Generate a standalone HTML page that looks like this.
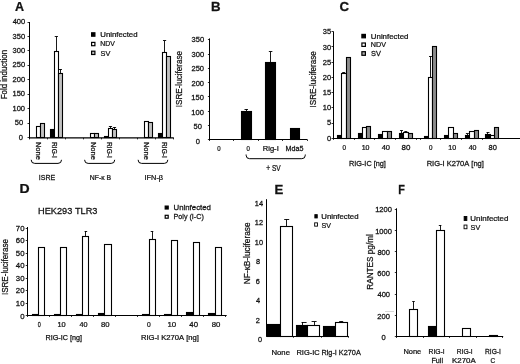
<!DOCTYPE html>
<html><head><meta charset="utf-8"><style>
html,body{margin:0;padding:0;background:#fff;}
svg{display:block;will-change:transform;filter:blur(0.45px);}
text{stroke:#111;stroke-width:0.25px;paint-order:stroke;font-family:"Liberation Sans",sans-serif;font-kerning:none;}
</style></head><body>
<svg width="520" height="364" viewBox="0 0 520 364">
<rect width="520" height="364" fill="#fff"/>
<text transform="translate(14.99,11.20) scale(1.043,1)" font-size="12.00" font-weight="bold" fill="#111">A</text>
<line x1="29.50" y1="22.00" x2="29.50" y2="138.40" stroke="#000" stroke-width="1.00"/>
<line x1="29.20" y1="137.90" x2="173.80" y2="137.90" stroke="#000" stroke-width="1.15"/>
<line x1="27.50" y1="137.50" x2="29.20" y2="137.50" stroke="#000" stroke-width="0.80"/>
<text transform="translate(18.70,139.50) scale(1.080,1)" font-size="7.00" fill="#111">0</text>
<line x1="27.50" y1="123.50" x2="29.20" y2="123.50" stroke="#000" stroke-width="0.80"/>
<text transform="translate(14.79,125.07) scale(1.080,1)" font-size="7.00" fill="#111">50</text>
<line x1="27.50" y1="108.50" x2="29.20" y2="108.50" stroke="#000" stroke-width="0.80"/>
<text transform="translate(12.45,110.65) scale(1.080,1)" font-size="7.00" fill="#111">100</text>
<line x1="27.50" y1="94.50" x2="29.20" y2="94.50" stroke="#000" stroke-width="0.80"/>
<text transform="translate(12.45,96.22) scale(1.080,1)" font-size="7.00" fill="#111">150</text>
<line x1="27.50" y1="79.50" x2="29.20" y2="79.50" stroke="#000" stroke-width="0.80"/>
<text transform="translate(12.55,81.79) scale(1.080,1)" font-size="7.00" fill="#111">200</text>
<line x1="27.50" y1="65.50" x2="29.20" y2="65.50" stroke="#000" stroke-width="0.80"/>
<text transform="translate(12.55,67.36) scale(1.080,1)" font-size="7.00" fill="#111">250</text>
<line x1="27.50" y1="50.50" x2="29.20" y2="50.50" stroke="#000" stroke-width="0.80"/>
<text transform="translate(12.60,52.94) scale(1.080,1)" font-size="7.00" fill="#111">300</text>
<line x1="27.50" y1="36.50" x2="29.20" y2="36.50" stroke="#000" stroke-width="0.80"/>
<text transform="translate(12.60,38.51) scale(1.080,1)" font-size="7.00" fill="#111">350</text>
<line x1="27.50" y1="22.50" x2="29.20" y2="22.50" stroke="#000" stroke-width="0.80"/>
<text transform="translate(12.65,24.08) scale(1.080,1)" font-size="7.00" fill="#111">400</text>
<line x1="29.50" y1="137.90" x2="29.50" y2="139.40" stroke="#000" stroke-width="0.80"/>
<line x1="47.50" y1="137.90" x2="47.50" y2="139.40" stroke="#000" stroke-width="0.80"/>
<line x1="65.50" y1="137.90" x2="65.50" y2="139.40" stroke="#000" stroke-width="0.80"/>
<line x1="83.50" y1="137.90" x2="83.50" y2="139.40" stroke="#000" stroke-width="0.80"/>
<line x1="101.50" y1="137.90" x2="101.50" y2="139.40" stroke="#000" stroke-width="0.80"/>
<line x1="119.50" y1="137.90" x2="119.50" y2="139.40" stroke="#000" stroke-width="0.80"/>
<line x1="137.50" y1="137.90" x2="137.50" y2="139.40" stroke="#000" stroke-width="0.80"/>
<line x1="155.50" y1="137.90" x2="155.50" y2="139.40" stroke="#000" stroke-width="0.80"/>
<line x1="173.50" y1="137.90" x2="173.50" y2="139.40" stroke="#000" stroke-width="0.80"/>
<rect x="36.50" y="126.50" width="4.00" height="11.00" fill="#fff" stroke="#000" stroke-width="1.10"/>
<rect x="40.50" y="123.50" width="4.00" height="14.00" fill="#c2c2c2" stroke="#000" stroke-width="1.10"/>
<rect x="50.50" y="129.50" width="4.00" height="8.00" fill="#000" stroke="#000" stroke-width="1.10"/>
<rect x="54.50" y="51.50" width="4.00" height="86.00" fill="#fff" stroke="#000" stroke-width="1.10"/>
<rect x="58.50" y="73.50" width="4.00" height="64.00" fill="#c2c2c2" stroke="#000" stroke-width="1.10"/>
<line x1="56.50" y1="36.52" x2="56.50" y2="51.83" stroke="#000" stroke-width="0.90"/>
<line x1="54.74" y1="36.50" x2="57.94" y2="36.50" stroke="#000" stroke-width="0.90"/>
<line x1="60.50" y1="69.15" x2="60.50" y2="73.49" stroke="#000" stroke-width="0.90"/>
<line x1="58.79" y1="69.50" x2="61.99" y2="69.50" stroke="#000" stroke-width="0.90"/>
<rect x="90.50" y="133.50" width="4.00" height="4.00" fill="#fff" stroke="#000" stroke-width="1.10"/>
<rect x="94.50" y="133.50" width="4.00" height="4.00" fill="#c2c2c2" stroke="#000" stroke-width="1.10"/>
<rect x="104.50" y="136.50" width="4.00" height="1.00" fill="#000" stroke="#000" stroke-width="1.10"/>
<rect x="108.50" y="128.50" width="4.00" height="9.00" fill="#fff" stroke="#000" stroke-width="1.10"/>
<rect x="112.50" y="129.50" width="4.00" height="8.00" fill="#c2c2c2" stroke="#000" stroke-width="1.10"/>
<line x1="110.50" y1="126.19" x2="110.50" y2="128.21" stroke="#000" stroke-width="0.90"/>
<line x1="108.86" y1="126.50" x2="112.06" y2="126.50" stroke="#000" stroke-width="0.90"/>
<line x1="114.50" y1="127.00" x2="114.50" y2="129.51" stroke="#000" stroke-width="0.90"/>
<line x1="112.91" y1="127.50" x2="116.11" y2="127.50" stroke="#000" stroke-width="0.90"/>
<rect x="144.50" y="121.50" width="4.00" height="16.00" fill="#fff" stroke="#000" stroke-width="1.10"/>
<rect x="148.50" y="122.50" width="4.00" height="15.00" fill="#c2c2c2" stroke="#000" stroke-width="1.10"/>
<rect x="158.50" y="133.50" width="4.00" height="4.00" fill="#000" stroke="#000" stroke-width="1.10"/>
<rect x="162.50" y="52.50" width="4.00" height="85.00" fill="#fff" stroke="#000" stroke-width="1.10"/>
<rect x="166.50" y="56.50" width="4.00" height="81.00" fill="#c2c2c2" stroke="#000" stroke-width="1.10"/>
<line x1="164.50" y1="40.56" x2="164.50" y2="52.40" stroke="#000" stroke-width="0.90"/>
<line x1="162.98" y1="40.50" x2="166.18" y2="40.50" stroke="#000" stroke-width="0.90"/>
<rect x="91.60" y="32.80" width="3.30" height="3.40" fill="#000" stroke="#000" stroke-width="1.20"/>
<rect x="91.60" y="42.40" width="3.30" height="3.30" fill="#fff" stroke="#000" stroke-width="1.20"/>
<rect x="91.60" y="51.20" width="3.30" height="3.30" fill="#c2c2c2" stroke="#000" stroke-width="1.20"/>
<text transform="translate(100.25,37.10) scale(1.027,1)" font-size="7.60" fill="#111">Uninfected</text>
<text transform="translate(100.28,46.40) scale(0.910,1)" font-size="7.60" fill="#111">NDV</text>
<text transform="translate(100.52,55.60) scale(0.963,1)" font-size="7.60" fill="#111">SV</text>
<text transform="translate(7.30,99.30) rotate(-90) scale(0.957,1)" font-size="8.30" fill="#111">Fold induction</text>
<text transform="translate(35.90,141.93) rotate(90) scale(1.104,1)" font-size="6.80" fill="#111">None</text>
<text transform="translate(52.40,142.01) rotate(90) scale(0.976,1)" font-size="6.80" fill="#111">RIG-I</text>
<text transform="translate(90.70,141.93) rotate(90) scale(1.104,1)" font-size="6.80" fill="#111">None</text>
<text transform="translate(107.20,142.01) rotate(90) scale(0.976,1)" font-size="6.80" fill="#111">RIG-I</text>
<text transform="translate(143.60,141.93) rotate(90) scale(1.104,1)" font-size="6.80" fill="#111">None</text>
<text transform="translate(162.30,142.01) rotate(90) scale(0.976,1)" font-size="6.80" fill="#111">RIG-I</text>
<path d="M31.20,159.80 L31.20,159.90 Q31.20,163.40 34.70,163.40 L58.00,163.40 Q61.50,163.40 61.50,159.90 L61.50,159.80" fill="none" stroke="#000" stroke-width="1.00"/>
<path d="M84.60,159.80 L84.60,159.90 Q84.60,163.40 88.10,163.40 L111.20,163.40 Q114.70,163.40 114.70,159.90 L114.70,159.80" fill="none" stroke="#000" stroke-width="1.00"/>
<path d="M138.10,159.80 L138.10,159.90 Q138.10,163.40 141.60,163.40 L164.30,163.40 Q167.80,163.40 167.80,159.90 L167.80,159.80" fill="none" stroke="#000" stroke-width="1.00"/>
<text transform="translate(38.80,179.70) scale(0.928,1)" font-size="7.60" fill="#111">ISRE</text>
<text transform="translate(89.79,179.90) scale(0.902,1)" font-size="7.60" fill="#111">NF-κ B</text>
<text transform="translate(144.57,179.70) scale(0.970,1)" font-size="7.60" fill="#111">IFN-β</text>
<text transform="translate(211.01,11.20) scale(1.107,1)" font-size="12.00" font-weight="bold" fill="#111">B</text>
<line x1="209.50" y1="38.40" x2="209.50" y2="140.00" stroke="#000" stroke-width="1.00"/>
<line x1="209.60" y1="139.50" x2="307.30" y2="139.50" stroke="#000" stroke-width="1.00"/>
<line x1="207.90" y1="139.50" x2="209.60" y2="139.50" stroke="#000" stroke-width="0.80"/>
<text transform="translate(195.70,143.90) scale(1.080,1)" font-size="7.00" fill="#111">0</text>
<line x1="207.90" y1="125.50" x2="209.60" y2="125.50" stroke="#000" stroke-width="0.80"/>
<text transform="translate(193.59,129.40) scale(1.080,1)" font-size="7.00" fill="#111">50</text>
<line x1="207.90" y1="111.50" x2="209.60" y2="111.50" stroke="#000" stroke-width="0.80"/>
<text transform="translate(191.35,114.90) scale(1.080,1)" font-size="7.00" fill="#111">100</text>
<line x1="207.90" y1="96.50" x2="209.60" y2="96.50" stroke="#000" stroke-width="0.80"/>
<text transform="translate(191.35,100.40) scale(1.080,1)" font-size="7.00" fill="#111">150</text>
<line x1="207.90" y1="82.50" x2="209.60" y2="82.50" stroke="#000" stroke-width="0.80"/>
<text transform="translate(191.45,85.90) scale(1.080,1)" font-size="7.00" fill="#111">200</text>
<line x1="207.90" y1="68.50" x2="209.60" y2="68.50" stroke="#000" stroke-width="0.80"/>
<text transform="translate(191.45,71.40) scale(1.080,1)" font-size="7.00" fill="#111">250</text>
<line x1="207.90" y1="54.50" x2="209.60" y2="54.50" stroke="#000" stroke-width="0.80"/>
<text transform="translate(191.50,56.90) scale(1.080,1)" font-size="7.00" fill="#111">300</text>
<line x1="207.90" y1="39.50" x2="209.60" y2="39.50" stroke="#000" stroke-width="0.80"/>
<text transform="translate(191.50,42.40) scale(1.080,1)" font-size="7.00" fill="#111">350</text>
<line x1="209.50" y1="139.50" x2="209.50" y2="141.00" stroke="#000" stroke-width="0.80"/>
<line x1="233.50" y1="139.50" x2="233.50" y2="141.00" stroke="#000" stroke-width="0.80"/>
<line x1="258.50" y1="139.50" x2="258.50" y2="141.00" stroke="#000" stroke-width="0.80"/>
<line x1="282.50" y1="139.50" x2="282.50" y2="141.00" stroke="#000" stroke-width="0.80"/>
<line x1="307.50" y1="139.50" x2="307.50" y2="141.00" stroke="#000" stroke-width="0.80"/>
<rect x="241.50" y="111.50" width="10.00" height="28.00" fill="#000" stroke="#000" stroke-width="1.10"/>
<line x1="246.50" y1="109.05" x2="246.50" y2="111.32" stroke="#000" stroke-width="0.90"/>
<line x1="244.50" y1="109.50" x2="248.00" y2="109.50" stroke="#000" stroke-width="0.90"/>
<rect x="265.50" y="62.50" width="10.00" height="77.00" fill="#000" stroke="#000" stroke-width="1.10"/>
<line x1="270.50" y1="51.56" x2="270.50" y2="62.09" stroke="#000" stroke-width="0.90"/>
<line x1="268.85" y1="51.50" x2="272.35" y2="51.50" stroke="#000" stroke-width="0.90"/>
<rect x="290.50" y="128.50" width="9.00" height="11.00" fill="#000" stroke="#000" stroke-width="1.10"/>
<text transform="translate(217.31,150.90) scale(0.843,1)" font-size="7.20" fill="#111">0</text>
<text transform="translate(246.41,150.90) scale(0.843,1)" font-size="7.20" fill="#111">0</text>
<text transform="translate(262.83,150.90) scale(1.047,1)" font-size="7.20" fill="#111">Rig-I</text>
<text transform="translate(285.56,150.90) scale(0.993,1)" font-size="7.20" fill="#111">Mda5</text>
<path d="M246.10,154.50 L246.10,155.20 Q246.10,158.70 249.60,158.70 L301.80,158.70 Q305.30,158.70 305.30,155.20 L305.30,154.50" fill="none" stroke="#000" stroke-width="1.00"/>
<text transform="translate(266.23,171.30) scale(0.803,1)" font-size="8.20" fill="#111">+ SV</text>
<text transform="translate(182.40,107.20) rotate(-90) scale(0.941,1)" font-size="8.60" fill="#111">ISRE-luciferase</text>
<text transform="translate(339.45,11.20) scale(1.109,1)" font-size="12.00" font-weight="bold" fill="#111">C</text>
<line x1="333.50" y1="31.30" x2="333.50" y2="138.90" stroke="#000" stroke-width="1.00"/>
<line x1="333.20" y1="138.50" x2="520.00" y2="138.50" stroke="#000" stroke-width="1.00"/>
<line x1="331.50" y1="138.50" x2="333.20" y2="138.50" stroke="#000" stroke-width="0.80"/>
<text transform="translate(326.99,140.60) scale(1.080,1)" font-size="7.00" fill="#111">0</text>
<line x1="331.50" y1="123.50" x2="333.20" y2="123.50" stroke="#000" stroke-width="0.80"/>
<text transform="translate(327.01,125.44) scale(1.080,1)" font-size="7.00" fill="#111">5</text>
<line x1="331.50" y1="107.50" x2="333.20" y2="107.50" stroke="#000" stroke-width="0.80"/>
<text transform="translate(322.79,110.28) scale(1.080,1)" font-size="7.00" fill="#111">10</text>
<line x1="331.50" y1="92.50" x2="333.20" y2="92.50" stroke="#000" stroke-width="0.80"/>
<text transform="translate(322.81,95.12) scale(1.080,1)" font-size="7.00" fill="#111">15</text>
<line x1="331.50" y1="77.50" x2="333.20" y2="77.50" stroke="#000" stroke-width="0.80"/>
<text transform="translate(322.79,79.96) scale(1.080,1)" font-size="7.00" fill="#111">20</text>
<line x1="331.50" y1="62.50" x2="333.20" y2="62.50" stroke="#000" stroke-width="0.80"/>
<text transform="translate(322.81,64.80) scale(1.080,1)" font-size="7.00" fill="#111">25</text>
<line x1="331.50" y1="46.50" x2="333.20" y2="46.50" stroke="#000" stroke-width="0.80"/>
<text transform="translate(322.79,49.64) scale(1.080,1)" font-size="7.00" fill="#111">30</text>
<line x1="331.50" y1="31.50" x2="333.20" y2="31.50" stroke="#000" stroke-width="0.80"/>
<text transform="translate(322.81,34.48) scale(1.080,1)" font-size="7.00" fill="#111">35</text>
<line x1="333.50" y1="138.40" x2="333.50" y2="139.90" stroke="#000" stroke-width="0.80"/>
<line x1="354.50" y1="138.40" x2="354.50" y2="139.90" stroke="#000" stroke-width="0.80"/>
<line x1="374.50" y1="138.40" x2="374.50" y2="139.90" stroke="#000" stroke-width="0.80"/>
<line x1="395.50" y1="138.40" x2="395.50" y2="139.90" stroke="#000" stroke-width="0.80"/>
<line x1="416.50" y1="138.40" x2="416.50" y2="139.90" stroke="#000" stroke-width="0.80"/>
<line x1="420.50" y1="138.40" x2="420.50" y2="139.90" stroke="#000" stroke-width="0.80"/>
<line x1="440.50" y1="138.40" x2="440.50" y2="139.90" stroke="#000" stroke-width="0.80"/>
<line x1="461.50" y1="138.40" x2="461.50" y2="139.90" stroke="#000" stroke-width="0.80"/>
<line x1="482.50" y1="138.40" x2="482.50" y2="139.90" stroke="#000" stroke-width="0.80"/>
<rect x="337.50" y="135.50" width="4.00" height="3.00" fill="#000" stroke="#000" stroke-width="1.10"/>
<rect x="341.50" y="73.50" width="5.00" height="65.00" fill="#fff" stroke="#000" stroke-width="1.10"/>
<rect x="346.50" y="57.50" width="4.00" height="81.00" fill="#8c8c8c" stroke="#000" stroke-width="1.10"/>
<line x1="343.50" y1="72.48" x2="343.50" y2="73.39" stroke="#000" stroke-width="0.90"/>
<line x1="342.20" y1="72.50" x2="345.20" y2="72.50" stroke="#000" stroke-width="0.90"/>
<rect x="358.50" y="133.50" width="4.00" height="5.00" fill="#000" stroke="#000" stroke-width="1.10"/>
<rect x="362.50" y="127.50" width="4.00" height="11.00" fill="#fff" stroke="#000" stroke-width="1.10"/>
<rect x="366.50" y="126.50" width="4.00" height="12.00" fill="#8c8c8c" stroke="#000" stroke-width="1.10"/>
<rect x="378.50" y="134.50" width="4.00" height="4.00" fill="#000" stroke="#000" stroke-width="1.10"/>
<rect x="382.50" y="131.50" width="5.00" height="7.00" fill="#fff" stroke="#000" stroke-width="1.10"/>
<rect x="387.50" y="131.50" width="4.00" height="7.00" fill="#8c8c8c" stroke="#000" stroke-width="1.10"/>
<rect x="399.50" y="133.50" width="4.00" height="5.00" fill="#000" stroke="#000" stroke-width="1.10"/>
<rect x="403.50" y="132.50" width="5.00" height="6.00" fill="#fff" stroke="#000" stroke-width="1.10"/>
<rect x="408.50" y="133.50" width="4.00" height="5.00" fill="#8c8c8c" stroke="#000" stroke-width="1.10"/>
<line x1="401.50" y1="130.46" x2="401.50" y2="133.06" stroke="#000" stroke-width="0.90"/>
<line x1="399.98" y1="130.50" x2="402.98" y2="130.50" stroke="#000" stroke-width="0.90"/>
<line x1="405.50" y1="131.38" x2="405.50" y2="132.60" stroke="#000" stroke-width="0.90"/>
<line x1="404.30" y1="131.50" x2="407.30" y2="131.50" stroke="#000" stroke-width="0.90"/>
<rect x="424.50" y="136.50" width="4.00" height="2.00" fill="#000" stroke="#000" stroke-width="1.10"/>
<rect x="428.50" y="77.50" width="4.00" height="61.00" fill="#fff" stroke="#000" stroke-width="1.10"/>
<rect x="432.50" y="46.50" width="4.00" height="92.00" fill="#8c8c8c" stroke="#000" stroke-width="1.10"/>
<line x1="430.50" y1="56.30" x2="430.50" y2="77.97" stroke="#000" stroke-width="0.90"/>
<line x1="429.00" y1="56.50" x2="432.00" y2="56.50" stroke="#000" stroke-width="0.90"/>
<rect x="444.50" y="135.50" width="4.00" height="3.00" fill="#000" stroke="#000" stroke-width="1.10"/>
<rect x="448.50" y="127.50" width="5.00" height="11.00" fill="#fff" stroke="#000" stroke-width="1.10"/>
<rect x="453.50" y="133.50" width="4.00" height="5.00" fill="#8c8c8c" stroke="#000" stroke-width="1.10"/>
<rect x="465.50" y="135.50" width="4.00" height="3.00" fill="#000" stroke="#000" stroke-width="1.10"/>
<rect x="469.50" y="131.50" width="5.00" height="7.00" fill="#fff" stroke="#000" stroke-width="1.10"/>
<rect x="474.50" y="130.50" width="4.00" height="8.00" fill="#8c8c8c" stroke="#000" stroke-width="1.10"/>
<line x1="467.50" y1="133.82" x2="467.50" y2="135.04" stroke="#000" stroke-width="0.90"/>
<line x1="465.88" y1="133.50" x2="468.88" y2="133.50" stroke="#000" stroke-width="0.90"/>
<rect x="485.50" y="134.50" width="5.00" height="4.00" fill="#000" stroke="#000" stroke-width="1.10"/>
<rect x="490.50" y="135.50" width="4.00" height="3.00" fill="#fff" stroke="#000" stroke-width="1.10"/>
<rect x="494.50" y="127.50" width="4.00" height="11.00" fill="#8c8c8c" stroke="#000" stroke-width="1.10"/>
<line x1="487.50" y1="132.30" x2="487.50" y2="134.43" stroke="#000" stroke-width="0.90"/>
<line x1="486.48" y1="132.50" x2="489.48" y2="132.50" stroke="#000" stroke-width="0.90"/>
<rect x="361.90" y="34.40" width="3.50" height="3.40" fill="#000" stroke="#000" stroke-width="1.20"/>
<rect x="361.90" y="43.00" width="3.50" height="3.40" fill="#fff" stroke="#000" stroke-width="1.20"/>
<rect x="361.90" y="51.70" width="3.50" height="3.60" fill="#b0b0b0" stroke="#000" stroke-width="1.20"/>
<text transform="translate(370.84,38.50) scale(1.035,1)" font-size="7.60" fill="#111">Uninfected</text>
<text transform="translate(370.86,47.20) scale(0.949,1)" font-size="7.60" fill="#111">NDV</text>
<text transform="translate(371.11,56.40) scale(0.973,1)" font-size="7.60" fill="#111">SV</text>
<text transform="translate(316.30,107.50) rotate(-90) scale(0.941,1)" font-size="8.60" fill="#111">ISRE-luciferase</text>
<text transform="translate(342.50,150.40) scale(0.897,1)" font-size="7.00" fill="#111">0</text>
<text transform="translate(361.72,150.40) scale(1.003,1)" font-size="7.00" fill="#111">10</text>
<text transform="translate(381.68,150.40) scale(1.075,1)" font-size="7.00" fill="#111">40</text>
<text transform="translate(401.50,150.40) scale(1.138,1)" font-size="7.00" fill="#111">80</text>
<text transform="translate(429.00,150.40) scale(0.897,1)" font-size="7.00" fill="#111">0</text>
<text transform="translate(448.32,150.40) scale(1.003,1)" font-size="7.00" fill="#111">10</text>
<text transform="translate(468.69,150.40) scale(1.007,1)" font-size="7.00" fill="#111">40</text>
<text transform="translate(488.53,150.40) scale(1.068,1)" font-size="7.00" fill="#111">80</text>
<text transform="translate(348.95,166.10) scale(0.989,1)" font-size="7.40" fill="#111">RIG-IC [ng]</text>
<text transform="translate(426.63,166.00) scale(1.018,1)" font-size="7.40" fill="#111">RIG-I K270A [ng]</text>
<text transform="translate(19.46,193.40) scale(1.169,1)" font-size="12.00" font-weight="bold" fill="#111">D</text>
<line x1="27.50" y1="227.00" x2="27.50" y2="316.00" stroke="#000" stroke-width="1.00"/>
<line x1="27.40" y1="315.50" x2="226.70" y2="315.50" stroke="#000" stroke-width="1.00"/>
<line x1="25.70" y1="315.50" x2="27.40" y2="315.50" stroke="#000" stroke-width="0.80"/>
<text transform="translate(20.18,318.55) scale(1.080,1)" font-size="7.20" fill="#111">0</text>
<line x1="25.70" y1="303.50" x2="27.40" y2="303.50" stroke="#000" stroke-width="0.80"/>
<text transform="translate(15.85,305.99) scale(1.080,1)" font-size="7.20" fill="#111">10</text>
<line x1="25.70" y1="290.50" x2="27.40" y2="290.50" stroke="#000" stroke-width="0.80"/>
<text transform="translate(15.85,293.44) scale(1.080,1)" font-size="7.20" fill="#111">20</text>
<line x1="25.70" y1="278.50" x2="27.40" y2="278.50" stroke="#000" stroke-width="0.80"/>
<text transform="translate(15.85,280.88) scale(1.080,1)" font-size="7.20" fill="#111">30</text>
<line x1="25.70" y1="265.50" x2="27.40" y2="265.50" stroke="#000" stroke-width="0.80"/>
<text transform="translate(15.85,268.32) scale(1.080,1)" font-size="7.20" fill="#111">40</text>
<line x1="25.70" y1="253.50" x2="27.40" y2="253.50" stroke="#000" stroke-width="0.80"/>
<text transform="translate(15.85,255.77) scale(1.080,1)" font-size="7.20" fill="#111">50</text>
<line x1="25.70" y1="240.50" x2="27.40" y2="240.50" stroke="#000" stroke-width="0.80"/>
<text transform="translate(15.85,243.21) scale(1.080,1)" font-size="7.20" fill="#111">60</text>
<line x1="25.70" y1="228.50" x2="27.40" y2="228.50" stroke="#000" stroke-width="0.80"/>
<text transform="translate(15.85,230.65) scale(1.080,1)" font-size="7.20" fill="#111">70</text>
<line x1="27.50" y1="315.50" x2="27.50" y2="317.00" stroke="#000" stroke-width="0.80"/>
<line x1="49.50" y1="315.50" x2="49.50" y2="317.00" stroke="#000" stroke-width="0.80"/>
<line x1="71.50" y1="315.50" x2="71.50" y2="317.00" stroke="#000" stroke-width="0.80"/>
<line x1="93.50" y1="315.50" x2="93.50" y2="317.00" stroke="#000" stroke-width="0.80"/>
<line x1="115.50" y1="315.50" x2="115.50" y2="317.00" stroke="#000" stroke-width="0.80"/>
<line x1="137.50" y1="315.50" x2="137.50" y2="317.00" stroke="#000" stroke-width="0.80"/>
<line x1="159.50" y1="315.50" x2="159.50" y2="317.00" stroke="#000" stroke-width="0.80"/>
<line x1="181.50" y1="315.50" x2="181.50" y2="317.00" stroke="#000" stroke-width="0.80"/>
<line x1="203.50" y1="315.50" x2="203.50" y2="317.00" stroke="#000" stroke-width="0.80"/>
<line x1="225.50" y1="315.50" x2="225.50" y2="317.00" stroke="#000" stroke-width="0.80"/>
<rect x="32.50" y="314.50" width="6.00" height="1.00" fill="#000" stroke="#000" stroke-width="1.10"/>
<rect x="38.50" y="247.50" width="6.00" height="68.00" fill="#fff" stroke="#000" stroke-width="1.10"/>
<rect x="54.50" y="314.50" width="6.00" height="1.00" fill="#000" stroke="#000" stroke-width="1.10"/>
<rect x="60.50" y="247.50" width="6.00" height="68.00" fill="#fff" stroke="#000" stroke-width="1.10"/>
<rect x="76.50" y="314.50" width="6.00" height="1.00" fill="#000" stroke="#000" stroke-width="1.10"/>
<rect x="82.50" y="236.50" width="6.00" height="79.00" fill="#fff" stroke="#000" stroke-width="1.10"/>
<line x1="85.50" y1="231.09" x2="85.50" y2="236.59" stroke="#000" stroke-width="0.90"/>
<line x1="84.58" y1="231.50" x2="87.18" y2="231.50" stroke="#000" stroke-width="0.90"/>
<rect x="98.50" y="313.50" width="6.00" height="2.00" fill="#000" stroke="#000" stroke-width="1.10"/>
<rect x="104.50" y="244.50" width="7.00" height="71.00" fill="#fff" stroke="#000" stroke-width="1.10"/>
<rect x="142.50" y="314.50" width="6.00" height="1.00" fill="#000" stroke="#000" stroke-width="1.10"/>
<rect x="149.50" y="239.50" width="6.00" height="76.00" fill="#fff" stroke="#000" stroke-width="1.10"/>
<line x1="152.50" y1="231.34" x2="152.50" y2="239.71" stroke="#000" stroke-width="0.90"/>
<line x1="150.70" y1="231.50" x2="153.30" y2="231.50" stroke="#000" stroke-width="0.90"/>
<rect x="164.50" y="314.50" width="6.00" height="1.00" fill="#000" stroke="#000" stroke-width="1.10"/>
<rect x="171.50" y="240.50" width="6.00" height="75.00" fill="#fff" stroke="#000" stroke-width="1.10"/>
<rect x="186.50" y="312.50" width="6.00" height="3.00" fill="#000" stroke="#000" stroke-width="1.10"/>
<rect x="193.50" y="242.50" width="6.00" height="73.00" fill="#fff" stroke="#000" stroke-width="1.10"/>
<rect x="208.50" y="313.50" width="6.00" height="2.00" fill="#000" stroke="#000" stroke-width="1.10"/>
<rect x="215.50" y="247.50" width="6.00" height="68.00" fill="#fff" stroke="#000" stroke-width="1.10"/>
<text transform="translate(37.64,326.70) scale(0.755,1)" font-size="7.20" fill="#111">0</text>
<text transform="translate(57.48,326.70) scale(1.031,1)" font-size="7.20" fill="#111">10</text>
<text transform="translate(79.38,326.70) scale(1.005,1)" font-size="7.20" fill="#111">40</text>
<text transform="translate(101.02,326.70) scale(1.065,1)" font-size="7.20" fill="#111">80</text>
<text transform="translate(146.99,326.70) scale(0.930,1)" font-size="7.20" fill="#111">0</text>
<text transform="translate(167.45,326.70) scale(1.100,1)" font-size="7.20" fill="#111">10</text>
<text transform="translate(189.37,326.70) scale(1.084,1)" font-size="7.20" fill="#111">40</text>
<text transform="translate(211.71,326.70) scale(1.079,1)" font-size="7.20" fill="#111">80</text>
<text transform="translate(45.56,339.90) scale(1.000,1)" font-size="7.20" fill="#111">RIG-IC [ng]</text>
<text transform="translate(140.92,339.90) scale(1.059,1)" font-size="7.20" fill="#111">RIG-I K270A [ng]</text>
<text transform="translate(38.09,213.90) scale(1.046,1)" font-size="8.80" fill="#111">HEK293 TLR3</text>
<rect x="165.20" y="206.10" width="3.00" height="2.90" fill="#000" stroke="#000" stroke-width="1.20"/>
<rect x="165.20" y="215.30" width="3.00" height="2.90" fill="#fff" stroke="#000" stroke-width="1.20"/>
<text transform="translate(173.55,210.30) scale(1.030,1)" font-size="7.60" fill="#111">Uninfected</text>
<text transform="translate(173.56,219.40) scale(0.945,1)" font-size="7.60" fill="#111">Poly (I-C)</text>
<text transform="translate(7.60,295.10) rotate(-90) scale(0.939,1)" font-size="8.60" fill="#111">ISRE-luciferase</text>
<text transform="translate(274.42,193.80) scale(1.099,1)" font-size="12.00" font-weight="bold" fill="#111">E</text>
<line x1="266.50" y1="199.20" x2="266.50" y2="336.80" stroke="#000" stroke-width="1.00"/>
<line x1="266.50" y1="336.50" x2="348.70" y2="336.50" stroke="#000" stroke-width="1.00"/>
<text transform="translate(254.84,206.00) scale(1.050,1)" font-size="7.00" fill="#111">14</text>
<text transform="translate(254.84,225.30) scale(1.050,1)" font-size="7.00" fill="#111">12</text>
<text transform="translate(254.84,244.70) scale(1.050,1)" font-size="7.00" fill="#111">10</text>
<text transform="translate(255.88,263.90) scale(1.050,1)" font-size="7.00" fill="#111">8</text>
<text transform="translate(255.83,283.70) scale(1.050,1)" font-size="7.00" fill="#111">6</text>
<text transform="translate(256.03,303.00) scale(1.050,1)" font-size="7.00" fill="#111">4</text>
<text transform="translate(255.83,323.10) scale(1.050,1)" font-size="7.00" fill="#111">2</text>
<text transform="translate(258.01,342.40) scale(1.050,1)" font-size="7.00" fill="#111">0</text>
<line x1="293.50" y1="336.30" x2="293.50" y2="337.80" stroke="#000" stroke-width="0.80"/>
<line x1="321.50" y1="336.30" x2="321.50" y2="337.80" stroke="#000" stroke-width="0.80"/>
<line x1="348.50" y1="336.30" x2="348.50" y2="337.80" stroke="#000" stroke-width="0.80"/>
<rect x="267.50" y="324.50" width="13.00" height="12.00" fill="#000" stroke="#000" stroke-width="1.10"/>
<rect x="280.50" y="226.50" width="12.00" height="110.00" fill="#fff" stroke="#000" stroke-width="1.10"/>
<line x1="286.50" y1="219.20" x2="286.50" y2="226.50" stroke="#000" stroke-width="0.90"/>
<line x1="284.20" y1="219.50" x2="289.20" y2="219.50" stroke="#000" stroke-width="0.90"/>
<rect x="296.50" y="325.50" width="11.00" height="11.00" fill="#000" stroke="#000" stroke-width="1.10"/>
<line x1="302.50" y1="322.00" x2="302.50" y2="325.40" stroke="#000" stroke-width="0.90"/>
<line x1="301.50" y1="322.50" x2="306.60" y2="322.50" stroke="#000" stroke-width="0.90"/>
<rect x="307.50" y="325.50" width="12.00" height="11.00" fill="#fff" stroke="#000" stroke-width="1.10"/>
<line x1="314.50" y1="321.70" x2="314.50" y2="325.70" stroke="#000" stroke-width="0.90"/>
<line x1="311.60" y1="321.50" x2="316.60" y2="321.50" stroke="#000" stroke-width="0.90"/>
<rect x="323.50" y="326.50" width="12.00" height="10.00" fill="#000" stroke="#000" stroke-width="1.10"/>
<rect x="335.50" y="322.50" width="12.00" height="14.00" fill="#fff" stroke="#000" stroke-width="1.10"/>
<line x1="341.50" y1="321.60" x2="341.50" y2="322.30" stroke="#000" stroke-width="0.90"/>
<line x1="339.20" y1="321.50" x2="343.20" y2="321.50" stroke="#000" stroke-width="0.90"/>
<rect x="314.85" y="214.65" width="2.40" height="3.30" fill="#000" stroke="#000" stroke-width="0.90"/>
<rect x="314.65" y="222.85" width="2.80" height="3.30" fill="#fff" stroke="#000" stroke-width="0.90"/>
<text transform="translate(321.25,219.10) scale(1.027,1)" font-size="7.60" fill="#111">Uninfected</text>
<text transform="translate(321.53,227.50) scale(0.932,1)" font-size="7.60" fill="#111">SV</text>
<text transform="translate(250.30,284.13) rotate(-90) scale(0.963,1)" font-size="8.60" fill="#111">NF-κB-luciferase</text>
<text transform="translate(271.41,355.00) scale(1.023,1)" font-size="7.60" fill="#111">None</text>
<text transform="translate(296.44,355.00) scale(0.986,1)" font-size="7.60" fill="#111">RIG-IC</text>
<text transform="translate(321.45,355.00) scale(0.962,1)" font-size="7.60" fill="#111">Rig-I K270A</text>
<text transform="translate(398.27,193.80) scale(0.903,1)" font-size="12.00" font-weight="bold" fill="#111">F</text>
<line x1="396.50" y1="208.30" x2="396.50" y2="337.00" stroke="#000" stroke-width="1.00"/>
<line x1="396.50" y1="336.50" x2="503.20" y2="336.50" stroke="#000" stroke-width="1.00"/>
<line x1="394.80" y1="336.50" x2="396.50" y2="336.50" stroke="#000" stroke-width="0.80"/>
<text transform="translate(381.60,339.90) scale(1.080,1)" font-size="7.00" fill="#111">0</text>
<line x1="394.80" y1="315.50" x2="396.50" y2="315.50" stroke="#000" stroke-width="0.80"/>
<text transform="translate(377.35,318.65) scale(1.080,1)" font-size="7.00" fill="#111">200</text>
<line x1="394.80" y1="294.50" x2="396.50" y2="294.50" stroke="#000" stroke-width="0.80"/>
<text transform="translate(377.45,297.40) scale(1.080,1)" font-size="7.00" fill="#111">400</text>
<line x1="394.80" y1="272.50" x2="396.50" y2="272.50" stroke="#000" stroke-width="0.80"/>
<text transform="translate(377.35,276.15) scale(1.080,1)" font-size="7.00" fill="#111">600</text>
<line x1="394.80" y1="251.50" x2="396.50" y2="251.50" stroke="#000" stroke-width="0.80"/>
<text transform="translate(377.38,254.90) scale(1.080,1)" font-size="7.00" fill="#111">800</text>
<line x1="394.80" y1="230.50" x2="396.50" y2="230.50" stroke="#000" stroke-width="0.80"/>
<text transform="translate(375.15,233.65) scale(1.080,1)" font-size="7.00" fill="#111">1000</text>
<line x1="394.80" y1="209.50" x2="396.50" y2="209.50" stroke="#000" stroke-width="0.80"/>
<text transform="translate(375.15,212.40) scale(1.080,1)" font-size="7.00" fill="#111">1200</text>
<line x1="396.50" y1="336.50" x2="396.50" y2="338.00" stroke="#000" stroke-width="0.80"/>
<line x1="423.50" y1="336.50" x2="423.50" y2="338.00" stroke="#000" stroke-width="0.80"/>
<line x1="449.50" y1="336.50" x2="449.50" y2="338.00" stroke="#000" stroke-width="0.80"/>
<line x1="476.50" y1="336.50" x2="476.50" y2="338.00" stroke="#000" stroke-width="0.80"/>
<line x1="502.50" y1="336.50" x2="502.50" y2="338.00" stroke="#000" stroke-width="0.80"/>
<rect x="409.50" y="309.50" width="8.00" height="27.00" fill="#fff" stroke="#000" stroke-width="1.10"/>
<line x1="413.50" y1="301.42" x2="413.50" y2="309.56" stroke="#000" stroke-width="0.90"/>
<line x1="412.20" y1="301.50" x2="414.80" y2="301.50" stroke="#000" stroke-width="0.90"/>
<rect x="428.50" y="326.50" width="8.00" height="10.00" fill="#000" stroke="#000" stroke-width="1.10"/>
<rect x="436.50" y="230.50" width="8.00" height="106.00" fill="#fff" stroke="#000" stroke-width="1.10"/>
<line x1="440.50" y1="225.21" x2="440.50" y2="230.92" stroke="#000" stroke-width="0.90"/>
<line x1="438.80" y1="225.50" x2="441.40" y2="225.50" stroke="#000" stroke-width="0.90"/>
<rect x="462.50" y="328.50" width="8.00" height="8.00" fill="#fff" stroke="#000" stroke-width="1.10"/>
<rect x="489.50" y="335.50" width="8.00" height="1.00" fill="#fff" stroke="#000" stroke-width="1.10"/>
<line x1="385.00" y1="311.50" x2="394.00" y2="311.50" stroke="#bbb" stroke-width="0.60"/>
<rect x="464.15" y="216.45" width="2.70" height="4.00" fill="#000" stroke="#000" stroke-width="0.90"/>
<rect x="464.05" y="225.05" width="2.90" height="3.70" fill="#fff" stroke="#000" stroke-width="0.90"/>
<text transform="translate(470.33,221.40) scale(1.049,1)" font-size="7.60" fill="#111">Uninfected</text>
<text transform="translate(470.62,229.80) scale(0.953,1)" font-size="7.60" fill="#111">SV</text>
<text transform="translate(372.80,289.72) rotate(-90) scale(0.954,1)" font-size="8.60" fill="#111">RANTES pg/ml</text>
<text transform="translate(403.44,353.60) scale(0.982,1)" font-size="7.60" fill="#111">None</text>
<text transform="translate(428.60,353.60) scale(0.885,1)" font-size="7.60" fill="#111">RIG-I</text>
<text transform="translate(431.46,362.50) scale(0.945,1)" font-size="7.60" fill="#111">Full</text>
<text transform="translate(456.70,353.60) scale(0.885,1)" font-size="7.60" fill="#111">RIG-I</text>
<text transform="translate(452.00,362.50) scale(1.037,1)" font-size="7.60" fill="#111">K270A</text>
<text transform="translate(485.00,353.60) scale(0.879,1)" font-size="7.60" fill="#111">RIG-I</text>
<text transform="translate(490.42,362.50) scale(0.852,1)" font-size="7.60" fill="#111">C</text>
</svg>
</body></html>
